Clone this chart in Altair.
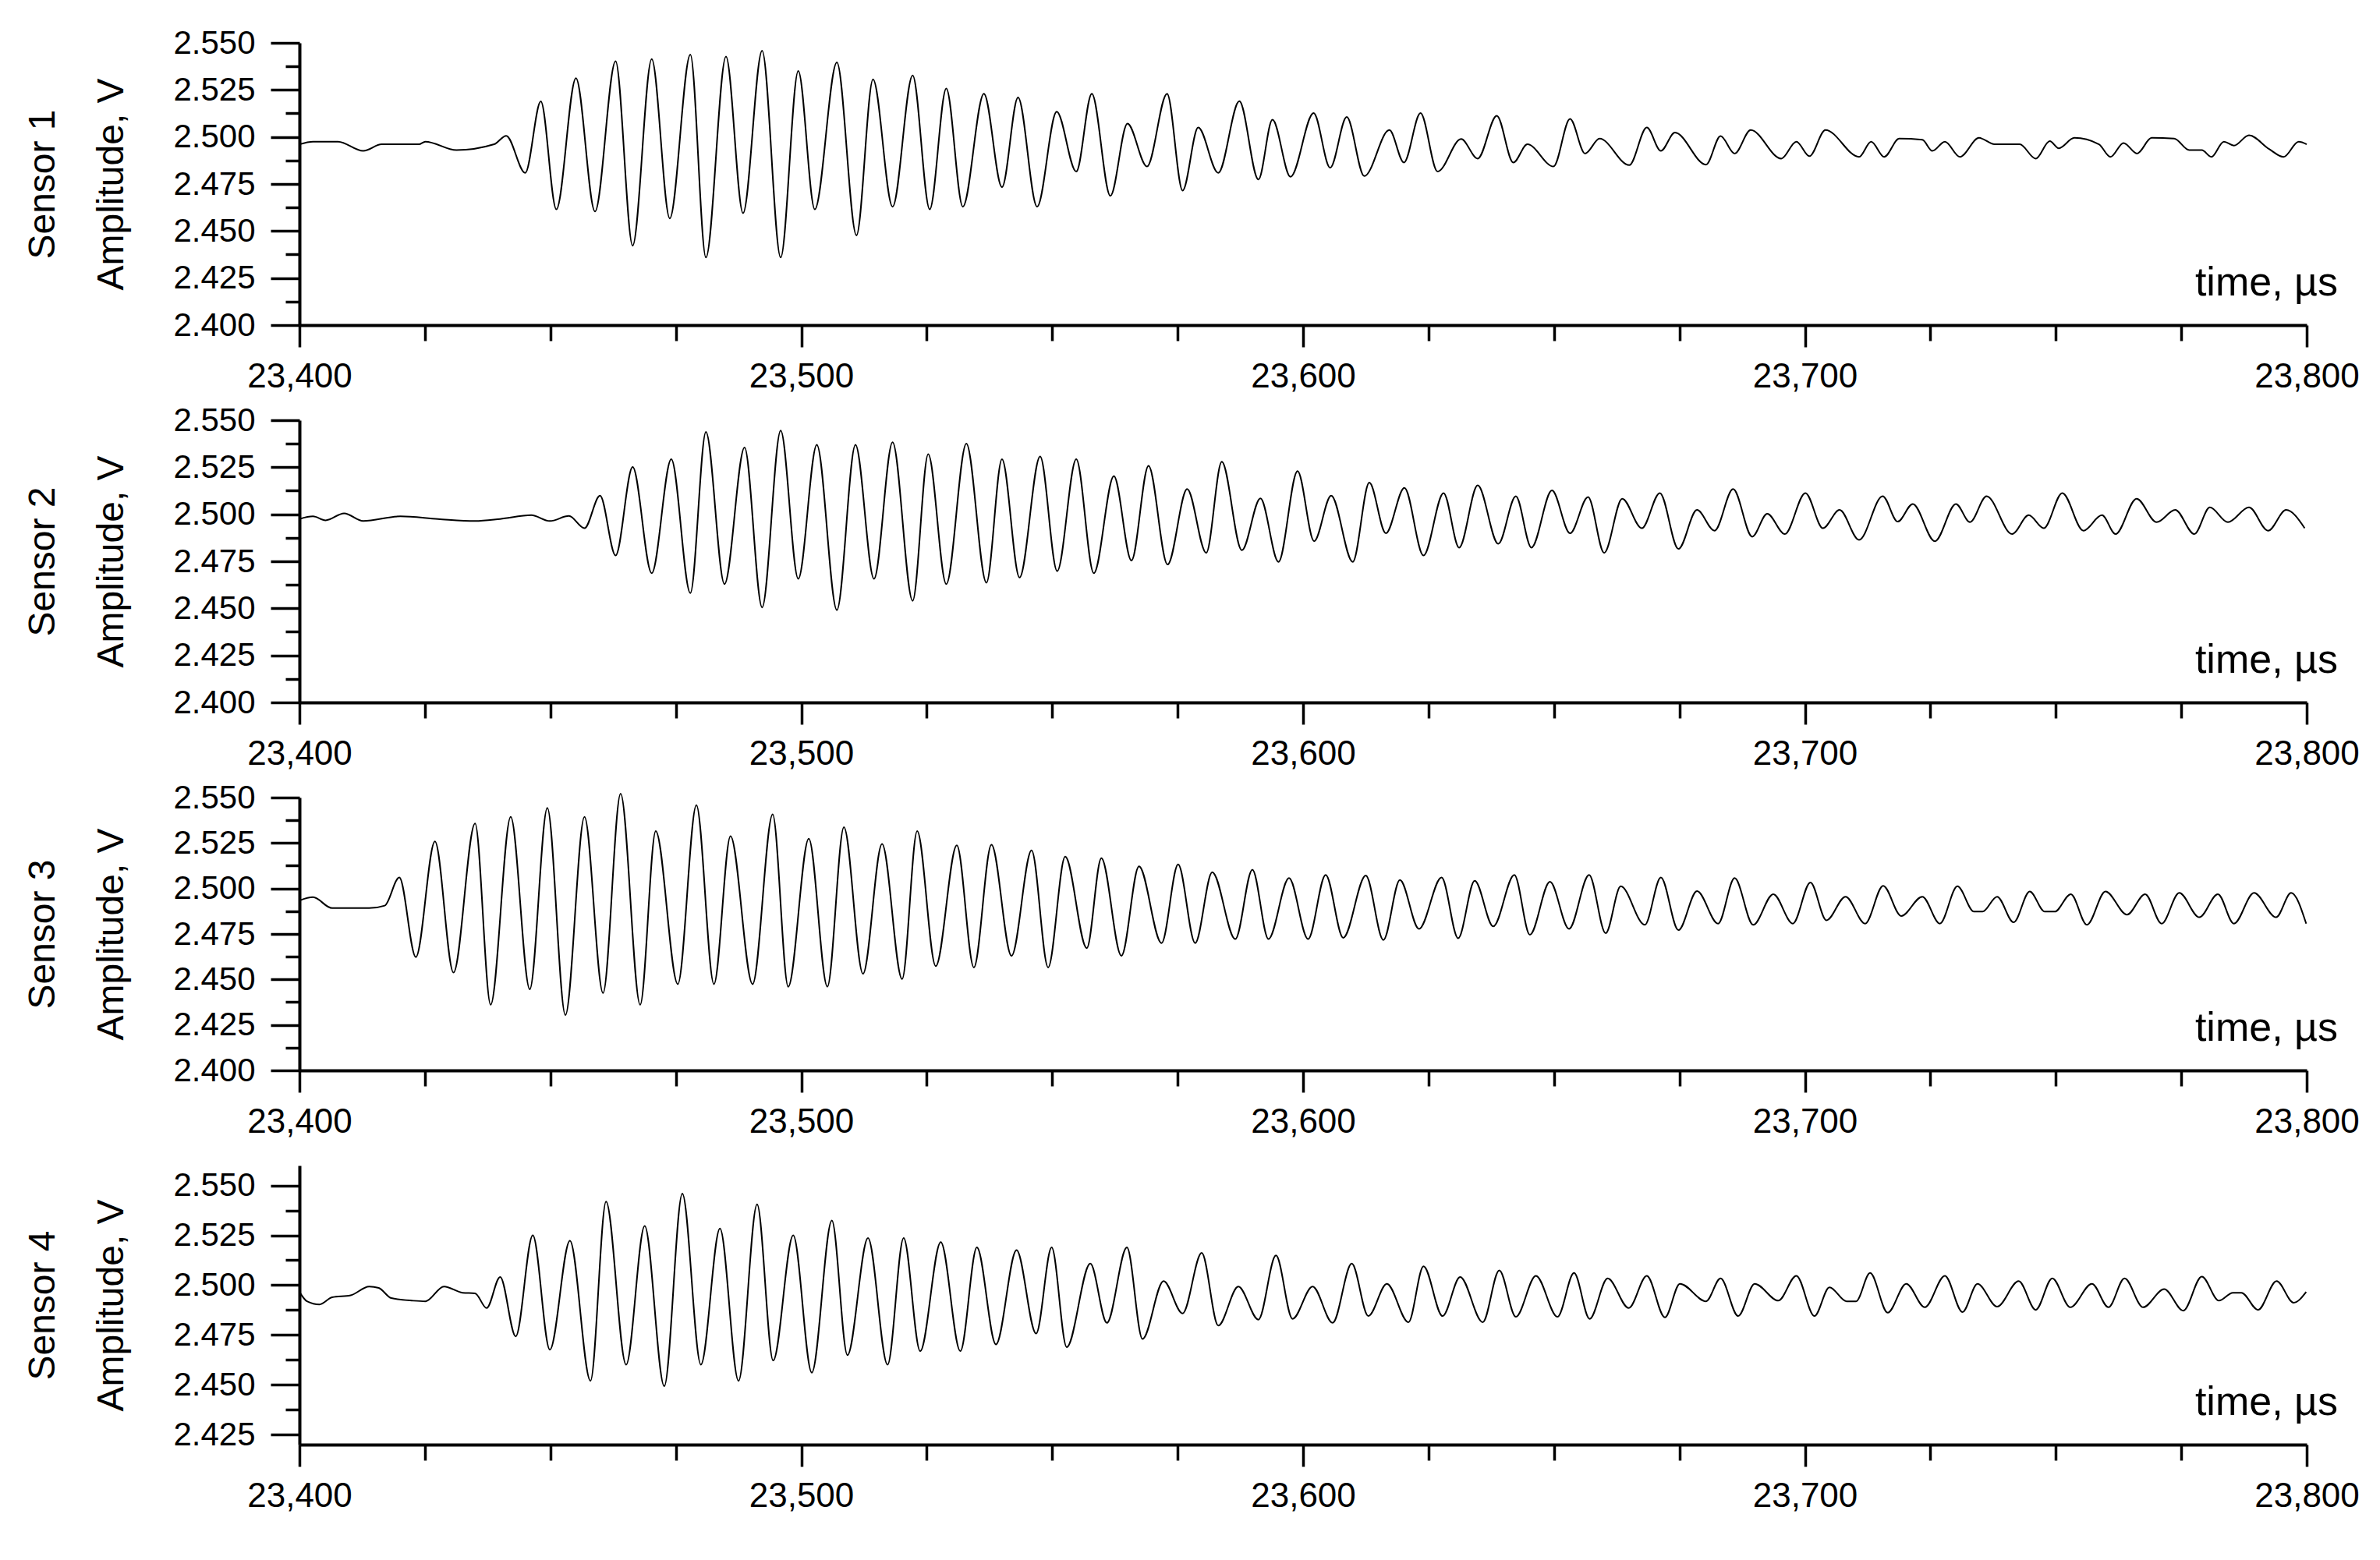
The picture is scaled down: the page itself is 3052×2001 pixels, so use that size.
import altair as alt
import pandas as pd

FONT = "Liberation Sans"

# ---------------- data (extrema of each trace) ----------------
S1_TIME = [23400.0, 23402.7, 23407.7, 23412.7, 23416.4, 23423.8, 23425.1, 23431.3, 23438.8, 23441.2,
           23445.0, 23448.1, 23451.2, 23455.1, 23458.9, 23463.0, 23466.4, 23470.2, 23473.8, 23477.9,
           23481.0, 23485.0, 23488.4, 23492.2, 23495.9, 23499.4, 23502.7, 23507.1, 23511.0, 23514.3,
           23518.2, 23522.2,
           23525.6, 23528.9, 23532.2, 23536.4, 23540.0, 23543.2, 23547.0, 23550.9, 23554.8, 23557.9,
           23561.6, 23565.0, 23568.9, 23572.9, 23576.0, 23579.1, 23583.1, 23587.3, 23591.1, 23593.9,
           23597.5, 23602.1, 23605.4, 23608.7, 23612.2, 23617.2, 23620.1, 23623.4, 23626.8, 23631.5,
           23634.8, 23638.6, 23641.9, 23644.7, 23649.9, 23653.2, 23656.2, 23659.1, 23665.0,
           23668.5, 23671.3, 23674.1, 23680.3, 23683.2, 23686.0, 23689.2, 23695.3, 23698.3, 23700.9,
           23704.1, 23710.8, 23713.2, 23715.8, 23718.8, 23723.4, 23725.4, 23727.9, 23730.9, 23734.7,
           23737.8, 23742.8, 23746.0, 23748.8, 23750.6, 23753.7, 23758.6, 23760.9, 23763.5, 23766.2,
           23769.1, 23773.6, 23776.6, 23779.1, 23781.0, 23783.5, 23785.5, 23788.5, 23792.5, 23795.4,
           23798.4, 23800.0]
S1_VOLT = [2.4961, 2.4975, 2.4975, 2.4926, 2.4961, 2.4961, 2.4975, 2.4930, 2.4961, 2.5006,
           2.4809, 2.5189, 2.4615, 2.5313, 2.4604, 2.5403, 2.4422, 2.5414, 2.4567, 2.5438,
           2.4359, 2.5428, 2.4595, 2.5459, 2.4359, 2.5351, 2.4615, 2.5396, 2.4477, 2.5306,
           2.4629, 2.5327,
           2.4615, 2.5258, 2.4629, 2.5230, 2.4733, 2.5210, 2.4629, 2.5134, 2.4816, 2.5230,
           2.4687, 2.5071, 2.4843, 2.5230, 2.4715, 2.5050, 2.4809, 2.5190, 2.4774, 2.5092,
           2.4788, 2.5127, 2.4836, 2.5106, 2.4792, 2.5037, 2.4864, 2.5127, 2.4816, 2.4989,
           2.4885, 2.5113, 2.4864, 2.4961, 2.4843, 2.5096, 2.4912, 2.4991, 2.4850,
           2.5050, 2.4926, 2.5023, 2.4853, 2.5005, 2.4912, 2.5037, 2.4885, 2.4975, 2.4898,
           2.5037, 2.4894, 2.4975, 2.4894, 2.4991, 2.4985, 2.4926, 2.4975, 2.4894, 2.4995,
           2.4961, 2.4961, 2.4885, 2.4978, 2.4940, 2.4995, 2.4961, 2.4894, 2.4968, 2.4912,
           2.4995, 2.4991, 2.4930, 2.4930, 2.4894, 2.4975, 2.4954, 2.5009, 2.4936, 2.4894,
           2.4975, 2.4961]

S2_TIME = [23400.0, 23402.7, 23405.2, 23408.9, 23412.7, 23420.1, 23427.6, 23435.0, 23440.0, 23446.2,
           23449.9, 23453.7, 23456.8, 23459.9, 23463.0, 23466.4, 23470.2, 23474.1, 23477.9, 23481.0,
           23484.7, 23488.7, 23492.2, 23495.9, 23499.4, 23503.1, 23507.1, 23510.8, 23514.5, 23518.2,
           23522.2,
           23525.3, 23528.9, 23532.9, 23536.9, 23540.0, 23543.5, 23547.6, 23551.0, 23554.8, 23558.3,
           23562.3, 23565.8, 23569.2, 23573.0, 23576.9, 23580.7, 23583.8, 23587.8, 23591.5, 23595.1,
           23598.9, 23602.2, 23605.6, 23609.9, 23613.2, 23616.5, 23620.2, 23624.0, 23628.0, 23631.1,
           23634.8, 23638.9, 23642.4, 23645.5, 23649.6, 23653.2, 23656.8, 23660.0, 23663.6,
           23667.5, 23671.1, 23674.8, 23678.5, 23682.0, 23685.7, 23689.5, 23692.5, 23696.0, 23700.1,
           23703.6, 23706.9, 23710.8, 23715.5, 23718.5, 23721.5, 23725.9, 23730.1, 23732.9, 23736.2,
           23741.3, 23744.6, 23747.6, 23751.3, 23755.5, 23759.2, 23761.9, 23766.1, 23770.1, 23773.8,
           23777.6, 23780.7, 23784.3, 23788.5, 23792.3, 23795.9, 23799.6]
S2_VOLT = [2.4975, 2.4989, 2.4968, 2.5005, 2.4964, 2.4989, 2.4975, 2.4964, 2.4975, 2.4995,
           2.4964, 2.4991, 2.4926, 2.5099, 2.4781, 2.5251, 2.4687, 2.5293, 2.4581, 2.5438,
           2.4629, 2.5355, 2.4505, 2.5445, 2.4657, 2.5369, 2.4491, 2.5369, 2.4657, 2.5383,
           2.4540,
           2.5320, 2.4629, 2.5376, 2.4636, 2.5293, 2.4664, 2.5307, 2.4698, 2.5293, 2.4687,
           2.5203, 2.4754, 2.5258, 2.4733, 2.5134, 2.4795, 2.5279, 2.4809, 2.5085, 2.4747,
           2.5230, 2.4857, 2.5099, 2.4747, 2.5168, 2.4899, 2.5141, 2.4781, 2.5113, 2.4823,
           2.5154, 2.4843, 2.5096, 2.4823, 2.5127, 2.4899, 2.5092, 2.4795, 2.5083,
           2.4926, 2.5113, 2.4816, 2.5023, 2.4913, 2.5134, 2.4881, 2.5003, 2.4895, 2.5113,
           2.4926, 2.5023, 2.4864, 2.5096, 2.4961, 2.5055, 2.4857, 2.5055, 2.4958, 2.5096,
           2.4895, 2.4995, 2.4926, 2.5113, 2.4913, 2.4995, 2.4895, 2.5083, 2.4958, 2.5023,
           2.4895, 2.5037, 2.4958, 2.5037, 2.4913, 2.5023, 2.4926]

S3_TIME = [23400.0, 23402.7, 23406.5, 23413.9, 23417.0, 23419.9, 23423.2, 23427.0, 23430.7, 23435.0,
           23438.1, 23442.1, 23445.9, 23449.4, 23453.0, 23456.8, 23460.5, 23464.0, 23467.9, 23471.0,
           23475.4, 23479.1, 23482.6, 23485.9, 23490.3, 23494.3, 23497.4, 23501.5, 23505.2, 23508.5,
           23512.3, 23516.1, 23520.1,
           23523.1, 23526.8, 23531.0, 23534.4, 23537.9, 23541.9, 23545.9, 23549.2, 23552.6, 23556.9,
           23559.8, 23563.8, 23567.3, 23571.8, 23575.1, 23578.5, 23581.9, 23586.5, 23589.9, 23593.1,
           23597.2, 23601.0, 23604.5, 23608.0, 23612.5, 23616.0, 23619.3, 23623.1, 23627.6, 23630.9,
           23634.2, 23637.9, 23642.1, 23645.2, 23649.2, 23653.0, 23657.0, 23660.3, 23663.3,
           23668.1, 23671.3, 23674.8, 23678.5, 23682.7, 23686.0, 23689.7, 23693.7, 23697.6, 23701.1,
           23704.3, 23708.1, 23712.0, 23715.6, 23719.2, 23723.4, 23726.9, 23730.4, 23733.7, 23735.4,
           23738.3, 23741.6, 23744.8, 23747.8, 23749.8, 23753.0, 23756.2, 23759.9, 23764.2, 23767.8,
           23771.1, 23774.6, 23778.6, 23782.3, 23785.5, 23789.5, 23793.9, 23796.9, 23799.9]
S3_VOLT = [2.4934, 2.4952, 2.4892, 2.4892, 2.4906, 2.5061, 2.4623, 2.5259, 2.4538, 2.5358,
           2.4361, 2.5394, 2.4446, 2.5443, 2.4304, 2.5394, 2.4425, 2.5521, 2.4361, 2.5316,
           2.4474, 2.5458, 2.4474, 2.5288, 2.4474, 2.5408, 2.4460, 2.5274, 2.4460, 2.5337,
           2.4531, 2.5245, 2.4502,
           2.5316, 2.4573, 2.5238, 2.4566, 2.5241, 2.4630, 2.5210, 2.4566, 2.5175, 2.4672,
           2.5167, 2.4630, 2.5122, 2.4700, 2.5132, 2.4700, 2.5090, 2.4722, 2.5104, 2.4722,
           2.5057, 2.4722, 2.5075, 2.4729, 2.5071, 2.4717, 2.5047, 2.4778, 2.5061, 2.4726,
           2.5043, 2.4792, 2.5075, 2.4746, 2.5037, 2.4778, 2.5075, 2.4754, 2.5012,
           2.4800, 2.5061, 2.4771, 2.4986, 2.4807, 2.5057, 2.4800, 2.4969, 2.4807, 2.5033,
           2.4825, 2.4955, 2.4807, 2.5015, 2.4849, 2.4955, 2.4807, 2.5012, 2.4873, 2.4873,
           2.4955, 2.4814, 2.4984, 2.4873, 2.4873, 2.4969, 2.4800, 2.4984, 2.4856, 2.4969,
           2.4807, 2.4976, 2.4842, 2.4969, 2.4807, 2.4976, 2.4842, 2.4976, 2.4807]

S4_TIME = [23400.0, 23401.5, 23404.0, 23406.5, 23410.2, 23413.9, 23415.8, 23418.3, 23422.6, 23425.1,
           23428.8, 23432.5, 23435.0, 23437.3, 23440.0, 23443.1, 23446.5, 23449.9, 23453.9, 23458.0,
           23461.1, 23465.1, 23468.8, 23472.7, 23476.3, 23480.0, 23483.8, 23487.5, 23491.2, 23494.4,
           23498.4, 23502.1, 23506.1, 23509.2, 23513.3, 23517.2,
           23520.4, 23523.7, 23527.8, 23531.7, 23535.0, 23538.8, 23542.9, 23546.8, 23549.9, 23552.9,
           23557.6, 23560.9, 23564.9, 23568.0, 23572.2, 23576.0, 23579.8, 23583.1, 23587.1, 23591.1,
           23594.6, 23597.9, 23601.9, 23605.9, 23609.7, 23613.0, 23616.7, 23621.0, 23624.0, 23627.8,
           23631.3, 23635.8, 23639.1, 23642.4, 23646.4, 23650.7, 23654.0, 23657.1, 23660.7,
           23664.9, 23668.5, 23672.1, 23675.1, 23680.3, 23683.2, 23686.7, 23690.0, 23694.7, 23698.3,
           23701.9, 23704.9, 23708.3, 23710.2, 23713.0, 23716.5, 23720.2, 23723.9, 23727.9, 23731.4,
           23734.4, 23738.3, 23742.6, 23746.0, 23749.3, 23752.9, 23757.2, 23760.5, 23763.7, 23767.4,
           23771.6, 23775.4, 23779.1, 23782.5, 23785.3, 23787.0, 23790.3, 23794.0, 23797.4, 23799.9]
S4_VOLT = [2.4966, 2.4919, 2.4903, 2.4939, 2.4949, 2.4993, 2.4986, 2.4935, 2.4922, 2.4919,
           2.4993, 2.4962, 2.4959, 2.4885, 2.5041, 2.4743, 2.5250, 2.4676, 2.5223, 2.4520,
           2.5419, 2.4601, 2.5297, 2.4493, 2.5459, 2.4601, 2.5284, 2.4520, 2.5405, 2.4622,
           2.5250, 2.4561, 2.5324, 2.4649, 2.5236, 2.4601,
           2.5236, 2.4669, 2.5216, 2.4669, 2.5189, 2.4703, 2.5176, 2.4757, 2.5189, 2.4689,
           2.5108, 2.4811, 2.5189, 2.4730, 2.5020, 2.4858, 2.5162, 2.4797, 2.4993, 2.4827,
           2.5149, 2.4831, 2.4993, 2.4811, 2.5108, 2.4845, 2.5007, 2.4814, 2.5095, 2.4845,
           2.5041, 2.4814, 2.5074, 2.4841, 2.5047, 2.4841, 2.5061, 2.4831, 2.5034,
           2.4885, 2.5047, 2.4838, 2.5007, 2.4919, 2.5034, 2.4845, 2.5007, 2.4922, 2.5047,
           2.4845, 2.4989, 2.4919, 2.4919, 2.5061, 2.4862, 2.5007, 2.4889, 2.5047, 2.4865,
           2.5007, 2.4892, 2.5020, 2.4876, 2.5034, 2.4889, 2.5007, 2.4889, 2.5034, 2.4889,
           2.4980, 2.4872, 2.5043, 2.4922, 2.4962, 2.4962, 2.4876, 2.5020, 2.4912, 2.4966]

SENSOR_NAMES = ["Sensor 1", "Sensor 2", "Sensor 3", "Sensor 4"]
TIME_LABEL = ["time, µs"]

# axis tick values (major every 100 / 0.025, minor every 25 / 0.0125)
X_TICKS = [23400, 23425, 23450, 23475, 23500, 23525, 23550, 23575, 23600,
           23625, 23650, 23675, 23700, 23725, 23750, 23775, 23800]
Y_TICKS_FULL = [2.4, 2.4125, 2.425, 2.4375, 2.45, 2.4625, 2.475, 2.4875,
                2.5, 2.5125, 2.525, 2.5375, 2.55]
Y_TICKS_LAST = [2.425, 2.4375, 2.45, 2.4625, 2.475, 2.4875,
                2.5, 2.5125, 2.525, 2.5375, 2.55]

X_DOMAIN = [23400, 23800]
Y_DOMAIN_FULL = [2.4, 2.55]
Y_DOMAIN_LAST = [2.42, 2.56]

PLOT_W = 2574
HEIGHTS = [362, 362, 350, 358]

X_MAJOR = "datum.value % 100 === 0"
Y_MAJOR = "abs(datum.value * 40 - round(datum.value * 40)) < 0.001"


def make_panel(name, times, volts, height, ydomain, yticks):
    df = pd.DataFrame({"time": times, "volt": volts})
    x_axis = alt.Axis(
        values=X_TICKS,
        labelExpr=f"{X_MAJOR} ? format(datum.value, ',') : ''",
        tickSize={"condition": {"test": X_MAJOR, "value": 28}, "value": 20},
        tickWidth=3.5, tickColor="black",
        domainWidth=4, domainColor="black",
        labelFont=FONT, labelFontSize=44, labelColor="black", labelPadding=16,
        labelFlush=False, labelOverlap=False, grid=False, title=None,
    )
    y_axis = alt.Axis(
        values=yticks,
        labelExpr=f"{Y_MAJOR} ? format(datum.value, '.3f') : ''",
        tickSize={"condition": {"test": Y_MAJOR, "value": 37}, "value": 18},
        tickWidth=3.5, tickColor="black",
        domainWidth=4, domainColor="black",
        labelFont=FONT, labelFontSize=42, labelColor="black", labelPadding=20,
        labelFlush=False, labelOverlap=False, grid=False,
        title=[name, "Amplitude, V"], titleFont=FONT, titleFontSize=48,
        titleFontWeight="normal", titleColor="black", titleLineHeight=88,
        titlePadding=54,
    )
    line = alt.Chart(df).mark_line(
        color="black", strokeWidth=2, interpolate="monotone"
    ).encode(
        x=alt.X("time:Q", scale=alt.Scale(domain=X_DOMAIN, nice=False, zero=False), axis=x_axis),
        y=alt.Y("volt:Q", scale=alt.Scale(domain=ydomain, nice=False, zero=False), axis=y_axis),
    )
    label = alt.Chart(pd.DataFrame({"label": TIME_LABEL})).mark_text(
        align="right", baseline="alphabetic", font=FONT, fontSize=52, color="black", dx=40
    ).encode(
        text="label:N",
        x=alt.datum(X_DOMAIN[1]),
        y=alt.value(height - 38),
    )
    return alt.layer(line, label).properties(width=PLOT_W, height=height)


panels = [
    make_panel(SENSOR_NAMES[0], S1_TIME, S1_VOLT, HEIGHTS[0], Y_DOMAIN_FULL, Y_TICKS_FULL),
    make_panel(SENSOR_NAMES[1], S2_TIME, S2_VOLT, HEIGHTS[1], Y_DOMAIN_FULL, Y_TICKS_FULL),
    make_panel(SENSOR_NAMES[2], S3_TIME, S3_VOLT, HEIGHTS[2], Y_DOMAIN_FULL, Y_TICKS_FULL),
    make_panel(SENSOR_NAMES[3], S4_TIME, S4_VOLT, HEIGHTS[3], Y_DOMAIN_LAST, Y_TICKS_LAST),
]

chart = alt.vconcat(*panels, spacing=122, bounds="flush").properties(
    padding={"left": 23, "top": 26, "right": 5, "bottom": 5},
    background="white",
).configure_view(stroke=None)

chart.save("out.html", embed_options={"renderer": "svg", "actions": False})
